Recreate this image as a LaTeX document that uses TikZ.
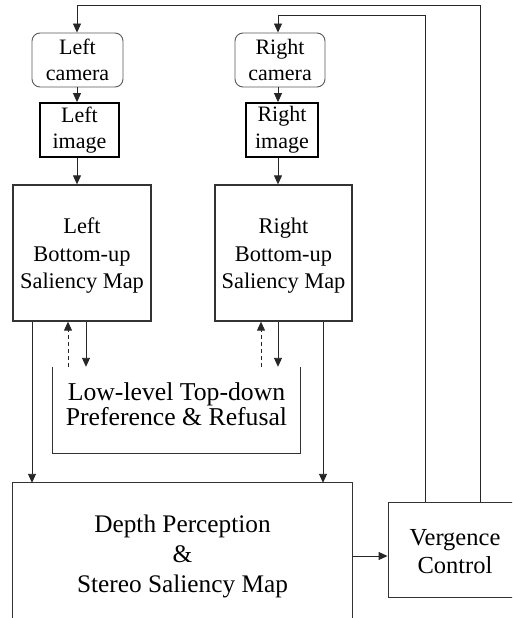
\documentclass[tikz,border=0pt]{standalone}
\usepackage{fontspec}
\setmainfont{Liberation Serif}
\newfontfamily\tms{Liberation Serif}
\usetikzlibrary{arrows.meta}
\begin{document}
\begin{tikzpicture}[x=1pt,y=-1pt,
  every node/.style={inner sep=0pt, align=center},
  cam/.style={draw=black!65, rounded corners=8pt, line width=0.9pt, font=\tms\fontsize{22}{26.6}\selectfont},
  imgbox/.style={draw=black, line width=1.8pt, font=\tms\fontsize{22}{26.6}\selectfont},
  sal/.style={draw=black!80, line width=1.3pt},
  saltxt/.style={font=\tms\fontsize{22.4}{27.5}\selectfont},
  plain/.style={draw=black!80, line width=0.9pt},
  arr/.style={-{Triangle[length=9pt,width=8pt]}, line width=0.9pt, draw=black!85},
  dasharr/.style={arr, dashed, dash pattern=on 4pt off 3pt}
]
\useasboundingbox (0,0) rectangle (512,618);
\clip (0,0) rectangle (512,618);
\fill[white] (0,0) rectangle (512,618);

% cameras
\node[cam, minimum width=91pt, minimum height=54pt] (lcam) at (77.5,60) {Left\\camera};
\node[cam, minimum width=90pt, minimum height=54pt] (rcam) at (280,60) {Right\\camera};
% images
\node[imgbox, minimum width=79pt, minimum height=54pt] (limg) at (79.5,130) {Left\\image};
\node[imgbox, minimum width=72pt, minimum height=54pt] (rimg) at (282,130) {Right\\image};
% saliency maps
\node[sal, minimum width=138pt, minimum height=136pt] (lsal) at (82,253) {};
\node[saltxt] (lsaltxt) at (82,256) {Left\\Bottom-up\\Saliency Map};
\node[sal, minimum width=137pt, minimum height=136pt] (rsal) at (283.5,253) {};
\node[saltxt] (rsaltxt) at (283.5,256) {Right\\Bottom-up\\Saliency Map};

% low-level top-down box (open at top)
\node[minimum width=247pt, minimum height=86pt] (low) at (176.5,410) {};
\node[font=\tms\fontsize{25.7}{25.5}\selectfont] (lowtxt) at (176.5,404) {Low-level Top-down\\Preference \& Refusal};
\draw[plain] (low.north west) -- (low.south west) -- (low.south east) -- (low.north east);

% depth perception box (continues below the picture)
\node[minimum width=339pt, minimum height=200pt] (depth) at (182.5,583) {};
\draw[plain] (depth.south west) -- (depth.north west) -- (depth.north east) -- (depth.south east);
\node[font=\tms\fontsize{25.3}{30}\selectfont] (depthtxt) at (182.5,556) {Depth Perception\\\&\\Stereo Saliency Map};

% vergence control box (continues past the right edge)
\node[plain, minimum width=140pt, minimum height=95pt] (verg) at (458,549.5) {};
\node[font=\tms\fontsize{24.5}{28}\selectfont] (vergtxt) at (455,552) {Vergence\\Control};

% helper coordinates
\coordinate (xl) at (77,0);
\coordinate (xr) at (278,0);
\coordinate (top1) at (480,5);
\coordinate (top2) at (425,15);
\coordinate (ldash) at (68,0);
\coordinate (ldown) at (86,0);
\coordinate (rdash) at (261,0);
\coordinate (rdown) at (278,0);
\coordinate (lside) at (32,0);
\coordinate (rside) at (323,0);

% main chain
\draw[arr] (lcam.south -| xl) -- (limg.north -| xl);
\draw[arr] (limg.south -| xl) -- (lsal.north -| xl);
\draw[arr] (rcam.south -| xr) -- (rimg.north -| xr);
\draw[arr] (rimg.south -| xr) -- (rsal.north -| xr);

% saliency <-> low-level
\draw[dasharr] (low.north -| ldash) -- (lsal.south -| ldash);
\draw[arr] (lsal.south -| ldown) -- (low.north -| ldown);
\draw[dasharr] (low.north -| rdash) -- (rsal.south -| rdash);
\draw[arr] (rsal.south -| rdown) -- (low.north -| rdown);

% saliency -> depth
\draw[arr] (lsal.south -| lside) -- (depth.north -| lside);
\draw[arr] (rsal.south -| rside) -- (depth.north -| rside);

% depth -> vergence
\draw[arr] (depth.east |- 0,556) -- (verg.west |- 0,556);

% feedback loops
\draw[arr] (verg.north -| top1) -- (top1) -- (top1 -| xl) -- (lcam.north -| xl);
\draw[arr] (verg.north -| top2) -- (top2) -- (top2 -| xr) -- (rcam.north -| xr);
\end{tikzpicture}
\end{document}
